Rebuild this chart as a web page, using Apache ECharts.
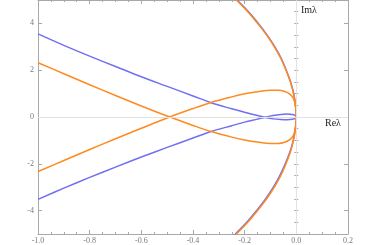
<!DOCTYPE html>
<html><head><meta charset="utf-8">
<script src="https://cdn.jsdelivr.net/npm/echarts@6/dist/echarts.min.js"></script>
<style>html,body{margin:0;padding:0;background:#fff}#c{width:382px;height:245px}</style>
</head><body><div id="c"></div>
<script>
// Tick labels
const xTicks = [-1.0, -0.8, -0.6, -0.4, -0.2, 0.0, 0.2];
const yTicks = [-4, -2, 0, 2, 4];

// Blue branch starting upper-left, ends at origin via lower side of small loop
const blueUpper = [[-1.0,3.55],[-0.9,3.06],[-0.8,2.60],[-0.7,2.16],[-0.6,1.72],[-0.5,1.31],[-0.4,0.90],[-0.33,0.61],[-0.25,0.35],[-0.2,0.20],[-0.15,0.06],[-0.12,-0.02],[-0.09,-0.08],[-0.06,-0.11],[-0.035,-0.12],[-0.015,-0.10],[-0.004,-0.06],[0,0]];
// Blue branch starting lower-left, ends at origin via upper side of small loop
const blueLower = [[-1.0,-3.52],[-0.9,-3.04],[-0.8,-2.58],[-0.7,-2.14],[-0.6,-1.71],[-0.5,-1.30],[-0.4,-0.90],[-0.33,-0.62],[-0.25,-0.37],[-0.2,-0.22],[-0.15,-0.09],[-0.12,-0.01],[-0.09,0.06],[-0.06,0.11],[-0.035,0.13],[-0.015,0.11],[-0.004,0.065],[0,0]];
// Orange branch upper-left -> lower bowl -> origin
const orangeUpper = [[-1.0,2.32],[-0.9,1.85],[-0.8,1.38],[-0.7,0.92],[-0.6,0.47],[-0.5,0.04],[-0.4,-0.36],[-0.33,-0.62],[-0.25,-0.86],[-0.2,-0.98],[-0.15,-1.07],[-0.1,-1.13],[-0.07,-1.13],[-0.045,-1.08],[-0.025,-0.97],[-0.012,-0.80],[-0.005,-0.55],[-0.001,-0.25],[0,0]];
// Orange branch lower-left -> upper bowl -> origin
const orangeLower = [[-1.0,-2.33],[-0.9,-1.86],[-0.8,-1.39],[-0.7,-0.93],[-0.6,-0.48],[-0.5,-0.04],[-0.4,0.36],[-0.33,0.62],[-0.25,0.86],[-0.2,0.99],[-0.15,1.08],[-0.1,1.14],[-0.07,1.14],[-0.045,1.09],[-0.025,0.98],[-0.012,0.80],[-0.005,0.55],[-0.001,0.25],[0,0]];
// Large parabola-like arcs through origin
const blueArc = [[-0.255,5.3],[-0.229,5],[-0.185,4.5],[-0.147,4],[-0.113,3.5],[-0.083,3],[-0.058,2.5],[-0.039,2],[-0.022,1.5],[-0.010,1],[-0.003,0.5],[0,0],[-0.004,-0.5],[-0.012,-1],[-0.025,-1.5],[-0.043,-2],[-0.064,-2.5],[-0.089,-3],[-0.119,-3.5],[-0.154,-4],[-0.192,-4.5],[-0.236,-5],[-0.262,-5.3]];
const orangeArc = [[-0.258,5.3],[-0.232,5],[-0.188,4.5],[-0.15,4],[-0.115,3.5],[-0.085,3],[-0.06,2.5],[-0.04,2],[-0.023,1.5],[-0.011,1],[-0.003,0.5],[0,0],[-0.003,-0.5],[-0.011,-1],[-0.023,-1.5],[-0.04,-2],[-0.06,-2.5],[-0.085,-3],[-0.115,-3.5],[-0.15,-4],[-0.188,-4.5],[-0.232,-5],[-0.258,-5.3]];

const BLUE = '#7070f0', ORANGE = '#ff8a1e';
const FRAME = '#a8a8a8', LABEL = '#7a7a7a';
const FONT = 'Liberation Serif';

function fmtX(v){ if (Math.abs(v) < 1e-9) return '0.0'; return v.toFixed(1); }
function fmtY(v){ if (Math.abs(v) < 1e-9) return '0'; return String(Math.round(v)); }

const baseX = {type:'value', min:-1, max:0.2, interval:0.2, splitLine:{show:false},
  axisLine:{show:true, onZero:false, lineStyle:{color:FRAME, width:1}},
  axisTick:{show:true, inside:true, length:4, lineStyle:{color:FRAME}},
  minorTick:{show:true, splitNumber:4, length:2, lineStyle:{color:FRAME}}};
const majY = {type:'value', min:-5, max:5, interval:1, splitLine:{show:false},
  axisLine:{show:true, onZero:false, lineStyle:{color:FRAME, width:1}},
  axisTick:{show:true, inside:true, length:4, customValues: yTicks, lineStyle:{color:FRAME}}};
const minY = {type:'value', min:-5, max:5, interval:0.5, splitLine:{show:false},
  axisLine:{show:false}, axisLabel:{show:false},
  axisTick:{show:true, inside:true, length:2, lineStyle:{color:FRAME}}};

const chart = echarts.init(document.getElementById('c'), null, {renderer:'canvas'});
const lineBase = {type:'line', showSymbol:false, symbol:'none', smooth:0.35, clip:true, silent:true, animation:false};
chart.setOption({
  animation:false,
  grid:{left:38, right:34, top:0, bottom:11, outerBoundsMode:'none', containLabel:false},
  xAxis:[
    Object.assign({}, baseX, {position:'bottom', axisLabel:{show:true, customValues:xTicks, formatter:fmtX, color:LABEL, fontFamily:FONT, fontSize:8, margin:3}}),
    Object.assign({}, baseX, {position:'top', axisLabel:{show:false}})
  ],
  yAxis:[
    Object.assign({}, majY, {position:'left', axisLabel:{show:true, customValues:yTicks, formatter:fmtY, color:LABEL, fontFamily:FONT, fontSize:8, margin:4}}),
    Object.assign({}, minY, {position:'left'}),
    Object.assign({}, majY, {position:'right', axisLabel:{show:false}}),
    Object.assign({}, minY, {position:'right'})
  ],
  series:[
    {type:'line', data:[], silent:true, markLine:{silent:true, symbol:['none','none'], label:{show:false}, animation:false,
      lineStyle:{color:'#e2e2e2', type:'solid', width:1}, data:[{xAxis:0},{yAxis:0}]}},
    Object.assign({}, lineBase, {name:'b1', data:blueUpper, lineStyle:{color:BLUE, width:1.5}}),
    Object.assign({}, lineBase, {name:'b2', data:blueLower, lineStyle:{color:BLUE, width:1.5}}),
    Object.assign({}, lineBase, {name:'b3', data:blueArc, lineStyle:{color:BLUE, width:1.5}}),
    Object.assign({}, lineBase, {name:'o1', data:orangeUpper, lineStyle:{color:ORANGE, width:1.5}}),
    Object.assign({}, lineBase, {name:'o2', data:orangeLower, lineStyle:{color:ORANGE, width:1.5}}),
    Object.assign({}, lineBase, {name:'o3', data:orangeArc, lineStyle:{color:ORANGE, width:1.5}})
  ],
  graphic:[
    {type:'text', left:301, top:5, style:{text:'Im\u03bb', fontFamily:FONT, fontSize:10, fill:'#222'}},
    {type:'text', left:325, top:118, style:{text:'Re\u03bb', fontFamily:FONT, fontSize:10, fill:'#222'}}
  ]
});
</script></body></html>
